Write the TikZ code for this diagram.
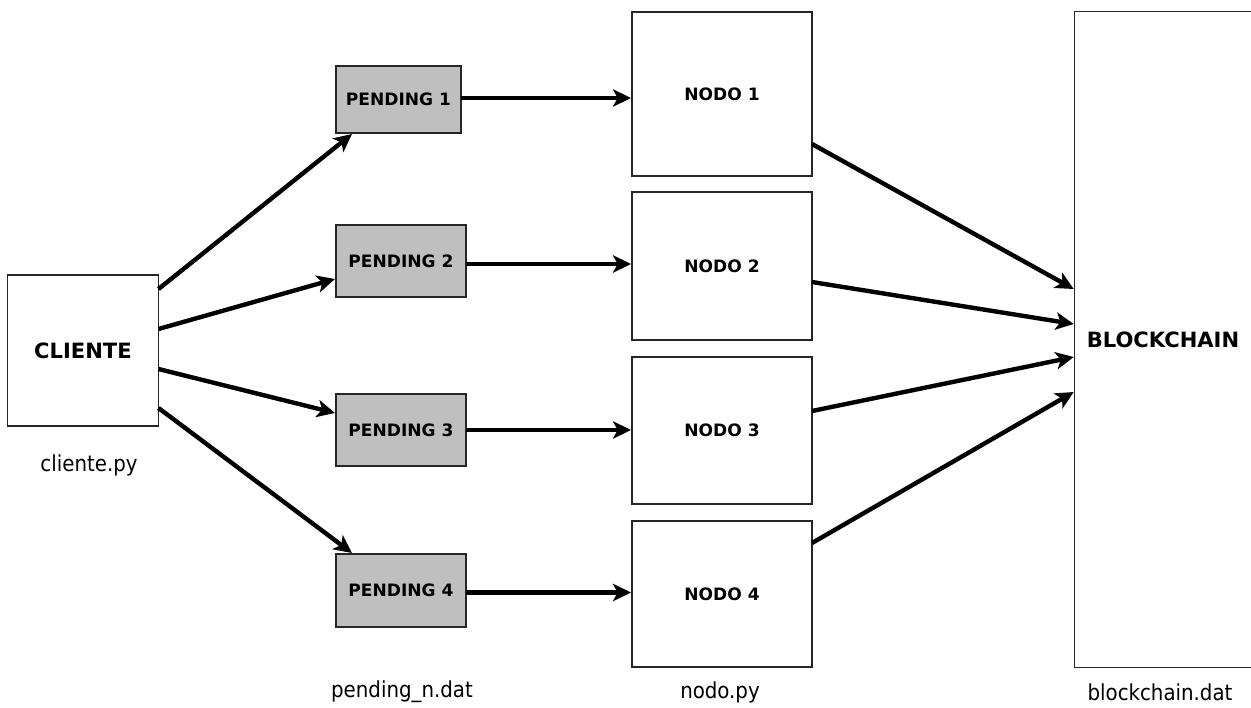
\documentclass[tikz,border=0pt]{standalone}
\usepackage{fontspec}
\setmainfont{DejaVu Sans}
\newfontfamily\lblfont{DejaVu Sans Condensed}
\usetikzlibrary{arrows.meta,calc}
\tikzset{
  box/.style={draw=black!85, line width=1.1pt, fill=white, inner sep=0pt, outer sep=0pt},
  pend/.style={box, fill=black!25, minimum width=130*0.75pt, minimum height=72*0.75pt, font=\bfseries\fontsize{12.8pt}{14pt}\selectfont},
  nodo/.style={box, minimum width=180*0.75pt, minimum height=147*0.75pt, font=\bfseries\fontsize{12.8pt}{14pt}\selectfont},
  lbl/.style={font=\lblfont\fontsize{16.5pt}{18pt}\selectfont, inner sep=0pt},
  arr/.style={line width=3.3pt, -{Stealth[length=13.5pt,width=13pt,inset=3.5pt]}, shorten >=0pt}
}
\begin{document}
\begin{tikzpicture}[x=0.75pt,y=-0.75pt]
\useasboundingbox (0,0) rectangle (1251,707);
% client
\node[box, minimum width=151*0.75pt, minimum height=151*0.75pt, font=\bfseries\fontsize{15.8pt}{18pt}\selectfont] (cl) at (83,350.5) {CLIENTE};
\node[lbl] (cll) at (89,465) {cliente.py};
% pending
\node[pend, minimum width=125*0.75pt, minimum height=67*0.75pt] (p1) at (398.5,99.5) {PENDING 1};
\node[pend] (p2) at (401,261) {PENDING 2};
\node[pend] (p3) at (401,430) {PENDING 3};
\node[pend, minimum height=73*0.75pt] (p4) at (401,590.5) {PENDING 4};
\node[lbl] (pl) at (402,692) {pending\_n.dat};
% nodos
\node[nodo, minimum height=164*0.75pt] (n1) at (722,94) {NODO 1};
\node[nodo, minimum height=148*0.75pt] (n2) at (722,266) {NODO 2};
\node[nodo] (n3) at (722,430.5) {NODO 3};
\node[nodo, minimum height=146*0.75pt] (n4) at (722,594) {NODO 4};
\node[lbl] (nl) at (720,692) {nodo.py};
% blockchain
\node[inner sep=0pt, minimum width=176*0.75pt, minimum height=655*0.75pt, font=\bfseries\fontsize{15.8pt}{18pt}\selectfont] (bc) at (1163,339.5) {BLOCKCHAIN};
\draw[draw=black!85, line width=1.1pt] (bc.north east) -- (bc.north west) -- (bc.south west) -- (bc.south east);
\node[lbl] (bl) at (1160,692) {blockchain.dat};
% client -> pending
\draw[arr] ($(cl.east)+(0,-61.5)$) -- ($(p1.south west)+(16,1)$);
\draw[arr] ($(cl.east)+(0,-21.5)$) -- ($(p2.west)+(-1,18)$);
\draw[arr] ($(cl.east)+(0,18.5)$) -- ($(p3.west)+(-1,-17)$);
\draw[arr] ($(cl.east)+(0,57.5)$) -- ($(p4.north west)+(16,-1)$);
% pending -> nodo
\draw[arr] ($(p1.east)+(0,-1.5)$) -- ($(p1.east -| n1.west)+(-1,-1.5)$);
\draw[arr] ($(p2.east)+(0,3)$) -- ($(p2.east -| n2.west)+(-1,3)$);
\draw[arr] (p3.east) -- ($(p3.east -| n3.west)+(-1,0)$);
\draw[arr] ($(p4.east)+(0,2)$) -- ($(p4.east -| n4.west)+(-1,2)$);
% nodo -> blockchain
\draw[arr] ($(n1.east)+(0,50)$) -- ($(bc.west)+(-1,-50.5)$);
\draw[arr] ($(n2.east)+(0,16)$) -- ($(bc.west)+(-1,-15.5)$);
\draw[arr] ($(n3.east)+(0,-19.5)$) -- ($(bc.west)+(-1,17.5)$);
\draw[arr] ($(n4.east)+(0,-51)$) -- ($(bc.west)+(-1,52.5)$);
\end{tikzpicture}
\end{document}
